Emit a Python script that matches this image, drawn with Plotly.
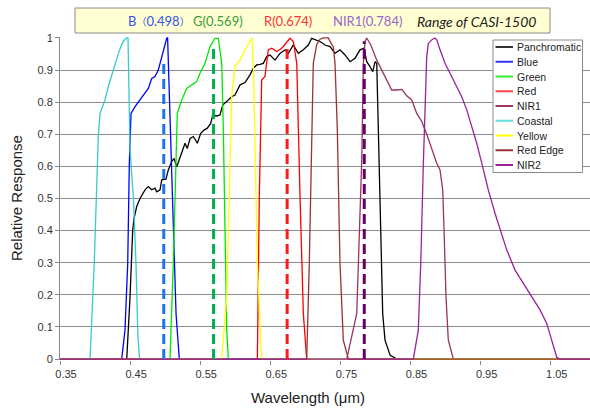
import plotly.graph_objects as go

# ---------------- data ----------------
PAN_WL = [0.35, 0.4452, 0.4499, 0.4537, 0.4556, 0.4594, 0.4641, 0.4713, 0.476, 0.4808,
          0.4855, 0.4879, 0.4927, 0.4951, 0.5012, 0.5045, 0.5093, 0.5126, 0.5165, 0.5202,
          0.525, 0.5283, 0.5316, 0.5355, 0.5402, 0.5459, 0.5507, 0.5554, 0.5601, 0.565,
          0.5678, 0.5735, 0.5782, 0.5821, 0.5878, 0.5949, 0.5996, 0.6068, 0.6139, 0.621,
          0.6258, 0.6306, 0.6353, 0.64, 0.6449, 0.6496, 0.6567, 0.6638, 0.671, 0.6757,
          0.6828, 0.6899, 0.6971, 0.7042, 0.709, 0.7138, 0.7209, 0.728, 0.7352, 0.7423,
          0.7494, 0.7566, 0.7637, 0.7708, 0.778, 0.7837, 0.7875, 0.7922, 0.7961, 0.7994,
          0.8018, 0.8041, 0.8075, 0.8103, 0.8136, 0.8208, 0.8303, 1.15]
PAN_R = [0, 0, 0.194, 0.402, 0.438, 0.475, 0.50, 0.527, 0.537, 0.527,
         0.532, 0.521, 0.527, 0.558, 0.56, 0.589, 0.615, 0.625, 0.599, 0.625,
         0.651, 0.672, 0.656, 0.687, 0.693, 0.672, 0.703, 0.713, 0.719, 0.734,
         0.76, 0.757, 0.76, 0.791, 0.802, 0.817, 0.822, 0.854, 0.861, 0.885,
         0.906, 0.916, 0.918, 0.921, 0.942, 0.947, 0.931, 0.952, 0.963, 0.952,
         0.978, 0.952, 0.963, 0.978, 0.999, 0.994, 0.989, 0.978, 0.973, 0.952,
         0.963, 0.947, 0.926, 0.937, 0.963, 0.968, 0.926, 0.911, 0.895, 0.926,
         0.921, 0.713, 0.402, 0.142, 0.059, 0.012, 0, 0]

BLUE_WL = [0.35, 0.438, 0.4427, 0.4466, 0.4489, 0.4513, 0.457, 0.4641, 0.4713, 0.476, 0.4808,
           0.4855, 0.4902, 0.4941, 0.4974, 0.5022, 0.5035, 0.5059, 0.5085, 0.5116, 0.5155, 0.5202, 1.15]
BLUE_R = [0, 0, 0.09, 0.298, 0.61, 0.765, 0.786, 0.807, 0.828, 0.843, 0.874,
          0.88, 0.90, 0.931, 0.963, 0.999, 1.0, 0.82, 0.65, 0.402, 0.142, 0, 0]

GREEN_WL = [0.35, 0.5069, 0.5116, 0.5155, 0.5173, 0.5236, 0.5307, 0.5379, 0.545, 0.5497,
            0.5568, 0.564, 0.5711, 0.5758, 0.5807, 0.583, 0.5854, 0.5878, 0.5901, 1.15]
GREEN_R = [0, 0, 0.298, 0.682, 0.765, 0.807, 0.843, 0.854, 0.864, 0.89,
           0.921, 0.973, 0.999, 0.999, 0.921, 0.713, 0.402, 0.09, 0, 0]

RED_WL = [0.35, 0.6315, 0.6343, 0.6377, 0.6424, 0.6471, 0.652, 0.6591, 0.6663, 0.6734,
          0.6781, 0.6829, 0.6877, 0.6924, 0.6971, 0.7019, 1.15]
RED_R = [0, 0, 0.506, 0.869, 0.88, 0.963, 0.968, 0.958, 0.968, 0.989,
         0.999, 0.989, 0.921, 0.506, 0.142, 0, 0]

NIR1_WL = [0.35, 0.759, 0.7733, 0.778, 0.7804, 0.7827, 0.7851, 0.7875, 0.7934, 0.8018,
           0.8089, 0.8161, 0.8232, 0.8303, 0.8375, 0.8446, 0.8517, 0.8589, 0.866, 0.8731,
           0.8802, 0.8874, 0.8921, 0.8959, 0.8978, 0.9006, 0.9039, 0.9111, 1.15]
NIR1_R = [0, 0, 0.142, 0.45, 0.62, 0.92, 0.989, 1.0, 0.978, 0.931,
          0.90, 0.869, 0.838, 0.838, 0.84, 0.82, 0.807, 0.765, 0.74, 0.70,
          0.655, 0.61, 0.589, 0.526, 0.402, 0.194, 0.059, 0, 0]

COASTAL_WL = [0.35, 0.391, 0.3928, 0.3989, 0.4014, 0.4046, 0.4071, 0.4142, 0.4189, 0.4260,
              0.4308, 0.4356, 0.4403, 0.4451, 0.4470, 0.4499, 0.4546, 0.4584, 0.4610, 0.4635, 1.15]
COASTAL_R = [0, 0, 0.0, 0.30, 0.506, 0.692, 0.765, 0.807, 0.848, 0.903,
             0.934, 0.966, 0.99, 1.0, 1.0, 0.65, 0.506, 0.298, 0.08, 0, 0]

YELLOW_WL = [0.35, 0.5807, 0.5878, 0.5925, 0.5949, 0.5996, 0.6068, 0.6139, 0.621, 0.6239,
             0.6258, 0.6282, 0.6315, 0.6377, 1.15]
YELLOW_R = [0, 0, 0.194, 0.61, 0.817, 0.911, 0.932, 0.963, 0.989, 1.0,
            0.92, 0.651, 0.298, 0, 0]

REDEDGE_WL = [0.35, 0.7019, 0.7056, 0.709, 0.7113, 0.7162, 0.7209, 0.7256, 0.7327, 0.7376,
              0.7399, 0.7423, 0.7456, 0.7494, 0.7541, 0.7613, 1.15]
REDEDGE_R = [0, 0, 0.298, 0.713, 0.921, 0.98, 0.996, 1.0, 1.0, 0.98,
             0.973, 0.92, 0.713, 0.298, 0.059, 0, 0]

NIR2_WL = [0.35, 0.854, 0.8611, 0.8646, 0.8683, 0.8707, 0.8731, 0.8754, 0.8802, 0.8849,
           0.8874, 0.8921, 0.8992, 0.9063, 0.9159, 0.923, 0.9302, 0.9373, 0.9444, 0.9516,
           0.961, 0.9705, 0.9777, 0.9872, 0.9991, 1.0109, 1.0229, 1.0347, 1.0443, 1.0514,
           1.0586, 1.0635, 1.15]
NIR2_R = [0, 0, 0.09, 0.298, 0.61, 0.765, 0.942, 0.983, 0.994, 1.0,
          0.994, 0.963, 0.921, 0.89, 0.848, 0.817, 0.776, 0.724, 0.672, 0.61,
          0.526, 0.454, 0.402, 0.34, 0.277, 0.236, 0.194, 0.153, 0.111, 0.059,
          0.005, 0, 0]

SERIES_NAMES = ["Panchromatic", "Blue", "Green", "Red", "NIR1", "Coastal", "Yellow", "Red Edge", "NIR2"]
SERIES_COLORS = ["#000000", "#0000FF", "#00E800", "#FF0000", "#993366", "#33CCCC", "#FFFF00", "#993333", "#992299"]
LEGEND_COLORS = ["#333333", "#3333FF", "#33EE33", "#FF4444", "#993366", "#66DDDD", "#FFFF00", "#993333", "#992299"]

# CASI-1500 band centres (µm) and heights of the dashed markers
BAND_LABELS = ["B", "G", "R", "NIR1"]
BAND_CENTERS = [0.498, 0.569, 0.674, 0.784]
BAND_TOPS = [0.92, 0.97, 0.97, 0.99]
BAND_LINE_COLORS = ["#1E74EE", "#00B050", "#FF1A1A", "#660066"]
BAND_TEXT_COLORS = ["#3355EE", "#3A9A3A", "#FF3333", "#9966CC"]

X_TICKS = [0.35, 0.45, 0.55, 0.65, 0.75, 0.85, 0.95, 1.05]
Y_TICKS = [0, 0.1, 0.2, 0.3, 0.4, 0.5, 0.6, 0.7, 0.8, 0.9, 1.0]

# ---------------- figure ----------------
wls = [PAN_WL, BLUE_WL, GREEN_WL, RED_WL, NIR1_WL, COASTAL_WL, YELLOW_WL, REDEDGE_WL, NIR2_WL]
rs = [PAN_R, BLUE_R, GREEN_R, RED_R, NIR1_R, COASTAL_R, YELLOW_R, REDEDGE_R, NIR2_R]

fig = go.Figure()
for name, wl, r, c in zip(SERIES_NAMES, wls, rs, SERIES_COLORS):
    fig.add_trace(go.Scatter(x=wl, y=r, mode="lines", name=name,
                             line=dict(color=c, width=1.3), showlegend=False,
                             hoverinfo="x+y+name"))

for lab, v, top, c in zip(BAND_LABELS, BAND_CENTERS, BAND_TOPS, BAND_LINE_COLORS):
    fig.add_trace(go.Scatter(x=[v, v], y=[0, top], mode="lines", name=lab,
                             line=dict(color=c, width=3, dash="10px,5px"),
                             showlegend=False))

FONT = "Liberation Sans, Arial, sans-serif"
L, R, T, B = 60, 0, 37, 52
W, H = 590, 412
pw, ph = W - L - R, H - T - B


def px(xp):
    return (xp - L) / pw


def py(yp):
    return (H - B - yp) / ph


shapes = []
annotations = []

# top label box
shapes.append(dict(type="rect", xref="paper", yref="paper",
                   x0=px(75), x1=px(550), y0=py(33), y1=py(8),
                   fillcolor="#FFFFD2", line=dict(color="#8a8a8a", width=1), layer="above"))
LABEL_PX = [159, 218, 288, 367.5]
for lab, v, c, xp in zip(BAND_LABELS, BAND_CENTERS, BAND_TEXT_COLORS, LABEL_PX):
    if lab == "B":
        txt = (f"{lab}<span style='font-size:10px'>（</span>{v:.3f}"
               f"<span style='font-size:10px'>）</span>")
    else:
        txt = f"{lab}({v:.3f})"
    annotations.append(dict(x=px(xp), xref="paper", y=py(21), yref="paper", text=txt,
                            showarrow=False, xanchor="center", yanchor="middle",
                            font=dict(family="Lato, Noto Sans CJK SC, sans-serif", size=13, color=c)))
annotations.append(dict(x=px(476.5), xref="paper", y=py(21), yref="paper",
                        text="<i>Range of CASI-1500</i>", showarrow=False,
                        xanchor="center", yanchor="middle",
                        font=dict(family="Lato, sans-serif", size=14, color="#222222")))

# legend box (drawn manually to match the compact spacing)
shapes.append(dict(type="rect", xref="paper", yref="paper",
                   x0=px(493), x1=px(582.5), y0=py(172.5), y1=py(40),
                   fillcolor="white", line=dict(color="#8a8a8a", width=1), layer="above"))
for i, (name, c) in enumerate(zip(SERIES_NAMES, LEGEND_COLORS)):
    yy = 47 + i * 14.75
    shapes.append(dict(type="line", xref="paper", yref="paper",
                       x0=px(495.5), x1=px(513), y0=py(yy), y1=py(yy),
                       line=dict(color=c, width=2), layer="above"))
    annotations.append(dict(x=px(514.5), xref="paper", y=py(yy), yref="paper", text=name,
                            showarrow=False, xanchor="left", yanchor="middle",
                            font=dict(family=FONT, size=10.5, color="#222222")))

# axis titles
annotations.append(dict(x=px(308), xref="paper", y=py(397), yref="paper",
                        text="Wavelength (μm)", showarrow=False,
                        xanchor="center", yanchor="middle",
                        font=dict(family=FONT, size=15, color="#222222")))
annotations.append(dict(x=px(16), xref="paper", y=py(198), yref="paper",
                        text="Relative Response", showarrow=False, textangle=-90,
                        xanchor="center", yanchor="middle",
                        font=dict(family=FONT, size=15, color="#222222")))

fig.update_layout(
    width=W, height=H,
    margin=dict(l=L, r=R, t=T, b=B, pad=0),
    paper_bgcolor="white", plot_bgcolor="white",
    font=dict(family=FONT, size=11, color="#333333"),
    shapes=shapes, annotations=annotations,
    showlegend=False,
    xaxis=dict(range=[0.35, 1.106], tickvals=X_TICKS,
               ticktext=[f"{v:.2f}" for v in X_TICKS],
               showgrid=False, zeroline=False, showline=False,
               ticks="outside", ticklen=4, tickcolor="#888888",
               ticklabelshift=6,
               tickfont=dict(family=FONT, size=11, color="#333333")),
    yaxis=dict(range=[-0.003, 1.003], tickvals=Y_TICKS,
               ticktext=[("%g" % v) for v in Y_TICKS],
               showgrid=True, gridcolor="#8c8c8c", gridwidth=1,
               zeroline=False, showline=True, linecolor="#888888", linewidth=1,
               ticks="outside", ticklen=4, tickcolor="#888888",
               tickfont=dict(family=FONT, size=11, color="#333333")),
)

fig.write_html("out.html", config={"displayModeBar": False},
               post_script="document.body.style.margin='0';document.body.style.padding='0';")
